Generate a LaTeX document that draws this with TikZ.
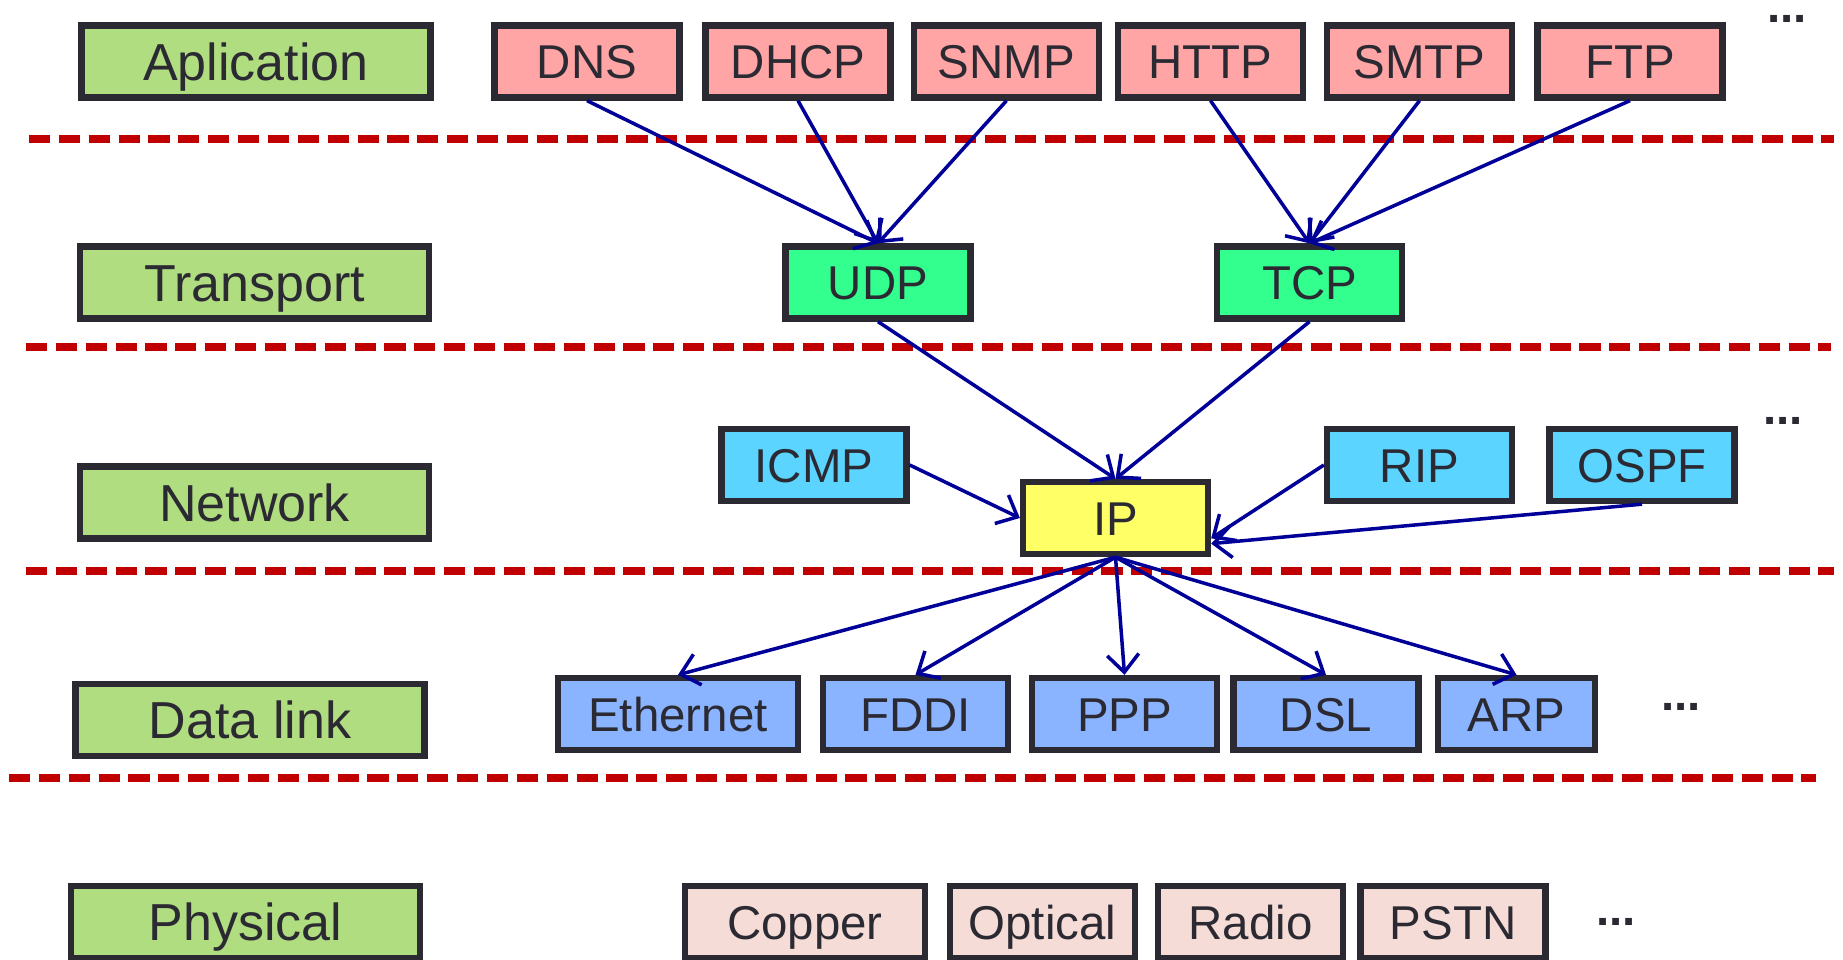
\documentclass[tikz,border=0pt]{standalone}
\usepackage{fontspec}
\setmainfont{Liberation Sans}
\usepackage{tikz}
\usetikzlibrary{shapes,arrows.meta,positioning}
\definecolor{edgegray}{RGB}{43,42,51}
\definecolor{layergreen}{RGB}{176,221,128}
\definecolor{apppink}{RGB}{255,165,165}
\definecolor{transgreen}{RGB}{51,255,143}
\definecolor{netblue}{RGB}{91,213,255}
\definecolor{ipyellow}{RGB}{255,255,102}
\definecolor{linkblue}{RGB}{138,180,255}
\definecolor{physpink}{RGB}{245,220,215}
\definecolor{arrownavy}{RGB}{0,0,153}
\definecolor{sepred}{RGB}{192,0,0}
\tikzstyle{box} = [rectangle, draw=edgegray, line width=1.8pt, text=edgegray, inner sep=0pt, minimum height=0.72cm, minimum width=1.85cm, text height=9.7pt, text depth=0pt, font=\fontsize{13.5}{16}\selectfont]
\tikzstyle{layer} = [box, fill=layergreen, minimum width=3.49cm, text height=10.6pt, font=\fontsize{14.8}{17}\selectfont]
\tikzstyle{app} = [box, fill=apppink]
\tikzstyle{trans} = [box, fill=transgreen]
\tikzstyle{net} = [box, fill=netblue]
\tikzstyle{link} = [box, fill=linkblue]
\tikzstyle{phys} = [box, fill=physpink]
\tikzstyle{more} = [text=edgegray, inner sep=0pt, text height=1.8pt, text depth=0pt, font=\fontsize{13.5}{16}\selectfont\bfseries]
\tikzstyle{line} = [draw, arrownavy, line width=1pt, -{Straight Barb[length=5pt,width=9pt]}]
\tikzstyle{sep} = [draw, sepred, line width=2pt, dash pattern=on 6pt off 2.5pt]

\begin{document}
\begin{tikzpicture}
	\useasboundingbox (0,0) rectangle (18.43,-9.59);
	\clip (0,0) rectangle (18.43,-9.59);

	% layers
	\node [layer] (lapp) at (2.56, -0.615) {Aplication};
	\node [layer] (ltrans) at (2.545, -2.825) {Transport};
	\node [layer] (lnet) at (2.545, -5.025) {Network};
	\node [layer] (llink) at (2.50, -7.20) {Data link};
	\node [layer] (lphys) at (2.455, -9.22) {Physical};

	% separators
	\path [sep] (0.29, -1.39) -- (18.34, -1.39);
	\path [sep] (0.26, -3.47) -- (18.31, -3.47);
	\path [sep] (0.26, -5.71) -- (18.34, -5.71);
	\path [sep] (0.09, -7.78) -- (18.16, -7.78);

	% application
	\node [app] (dns) at (5.87, -0.615) {DNS};
	\node [app] (dhcp) at (7.98, -0.615) {DHCP};
	\node [app] (snmp) at (10.065, -0.615) {SNMP};
	\node [app] (http) at (12.105, -0.615) {HTTP};
	\node [app] (smtp) at (14.195, -0.615) {SMTP};
	\node [app] (ftp) at (16.30, -0.615) {FTP};
	\node [more] (appmore) at (17.87, -0.19) {...};

	% transport
	\node [trans] (udp) at (8.78, -2.825) {UDP};
	\node [trans] (tcp) at (13.095, -2.825) {TCP};

	% network
	\node [net] (icmp) at (8.14, -4.65) {ICMP};
	\node [box, fill=ipyellow] (ip) at (11.155, -5.18) {IP};
	\node [net] (rip) at (14.195, -4.65) {RIP};
	\node [net] (ospf) at (16.42, -4.65) {OSPF};
	\node [more] (netmore) at (17.83, -4.21) {...};

	% data link
	\node [link, minimum width=2.40cm] (eth) at (6.78, -7.14) {Ethernet};
	\node [link] (fddi) at (9.155, -7.14) {FDDI};
	\node [link] (ppp) at (11.245, -7.14) {PPP};
	\node [link] (dsl) at (13.26, -7.14) {DSL};
	\node [link, minimum width=1.57cm] (arp) at (15.165, -7.14) {ARP};
	\node [more] (linkmore) at (16.81, -7.07) {...};

	% physical
	\node [phys, minimum width=2.40cm] (copper) at (8.05, -9.22) {Copper};
	\node [phys] (optical) at (10.425, -9.22) {Optical};
	\node [phys] (radio) at (12.505, -9.22) {Radio};
	\node [phys] (pstn) at (14.53, -9.22) {PSTN};
	\node [more] (physmore) at (16.16, -9.22) {...};

	\path [line] (dns.south) -- (udp.north);
	\path [line] (dhcp.south) -- (udp.north);
	\path [line] (snmp.south) -- (udp.north);
	\path [line] (http.south) -- (tcp.north);
	\path [line] (smtp.south) -- (tcp.north);
	\path [line] (ftp.south) -- (tcp.north);
	\path [line] (udp.south) -- (ip.north);
	\path [line] (tcp.south) -- (ip.north);
	\path [line] (icmp.east) -- (ip.west);
	\path [line] (rip.west) -- (ip.-12);
	\path [line] (ospf.south) -- (ip.-15);
	\path [line] (ip.south) -- (eth.north);
	\path [line] (ip.south) -- (fddi.north);
	\path [line] (ip.south) -- (ppp.north);
	\path [line] (ip.south) -- (dsl.north);
	\path [line] (ip.south) -- (arp.north);
\end{tikzpicture}
\end{document}
